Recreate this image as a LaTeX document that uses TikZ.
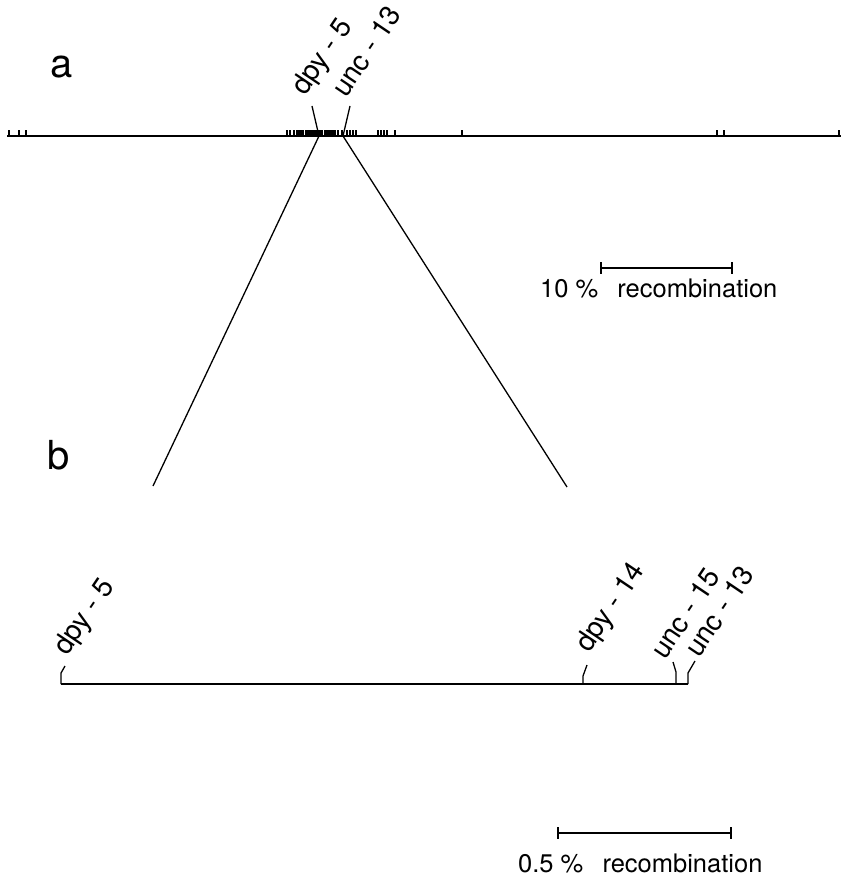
\documentclass[tikz,border=0pt]{standalone}
\usepackage{fontspec}
\setmainfont{TeX Gyre Heros}
\begin{document}
\begin{tikzpicture}[x=1pt,y=-1pt,
  mapline/.style={line width=1.7pt},
  lead/.style={line width=1.3pt},
  tick/.style={line width=1.3pt},
  genelabel/.style={anchor=base west,rotate=56,inner sep=0pt,font=\fontsize{28}{28}\selectfont},
  panel/.style={anchor=base west,inner sep=0pt,font=\fontsize{40}{40}\selectfont},
  scaletext/.style={anchor=base west,inner sep=0pt,font=\fontsize{25.5}{25.5}\selectfont}]
\useasboundingbox (0,0) rectangle (848,877);

% panel letters
\node[panel] (pa) at (50,78) {a};
\node[panel] (pb) at (47,469) {b};

% ---- map a ----
\coordinate (aL) at (7,136);
\coordinate (aR) at (841,136);
\draw[mapline] (aL) -- (aR);
\foreach \x in {9,19,26,287,290,294,297,299,301,303,306,308,310,312,314,316,
                318,320,322,325,327,329,331,333,335,338,342,347,350,353,356,
                378,381,384,387,395,462,717,724,839}
  \draw[tick] (\x,136.5) -- (\x,130);

\coordinate (d5a) at (319,136);
\coordinate (u13a) at (343,136);
\coordinate (d5aTop) at (312,106);
\coordinate (u13aTop) at (350,106);
\node[genelabel] (ld5a) at (305,97) {dpy - 5};
\node[genelabel] (lu13a) at (346,99) {unc - 13};
\draw[lead] (d5aTop) -- (d5a);
\draw[lead] (u13aTop) -- (u13a);

% expansion lines
\coordinate (zL) at (153,486);
\coordinate (zR) at (567,487);
\draw[lead] (d5a) -- (zL);
\draw[lead] (u13a) -- (zR);

% scale bar a
\coordinate (sa1) at (601,268);
\coordinate (sa2) at (732,268);
\draw[lead] (sa1) -- (sa2);
\draw[lead] (601,262) -- (601,274);
\draw[lead] (732,262) -- (732,274);
\node[scaletext] (ta) at (540,297) {10 \%\hspace{0.75em}recombination};

% ---- map b ----
\coordinate (bL) at (61,684);
\coordinate (bR) at (688,684);
\draw[mapline] (bL) -- (bR);

\node[genelabel] (ld5b) at (67,657) {dpy - 5};
\node[genelabel] (ld14b) at (589,654) {dpy - 14};
\node[genelabel] (lu15b) at (665,661) {unc - 15};
\node[genelabel] (lu13b) at (699,659) {unc - 13};

\draw[lead] (bL) -- (61,673) -- (65,666);
\coordinate (d14b) at (583,684);
\draw[lead] (d14b) -- (583,676) -- (587,665);
\coordinate (u15b) at (676,684);
\draw[lead] (u15b) -- (676,672) -- (673,662);
\draw[lead] (bR) -- (688,673) -- (695,661);

% scale bar b
\coordinate (sb1) at (558,833);
\coordinate (sb2) at (731,833);
\draw[lead] (sb1) -- (sb2);
\draw[lead] (558,827) -- (558,839);
\draw[lead] (731,827) -- (731,839);
\node[scaletext] (tb) at (518,872) {0.5 \%\hspace{0.75em}recombination};
\end{tikzpicture}
\end{document}
